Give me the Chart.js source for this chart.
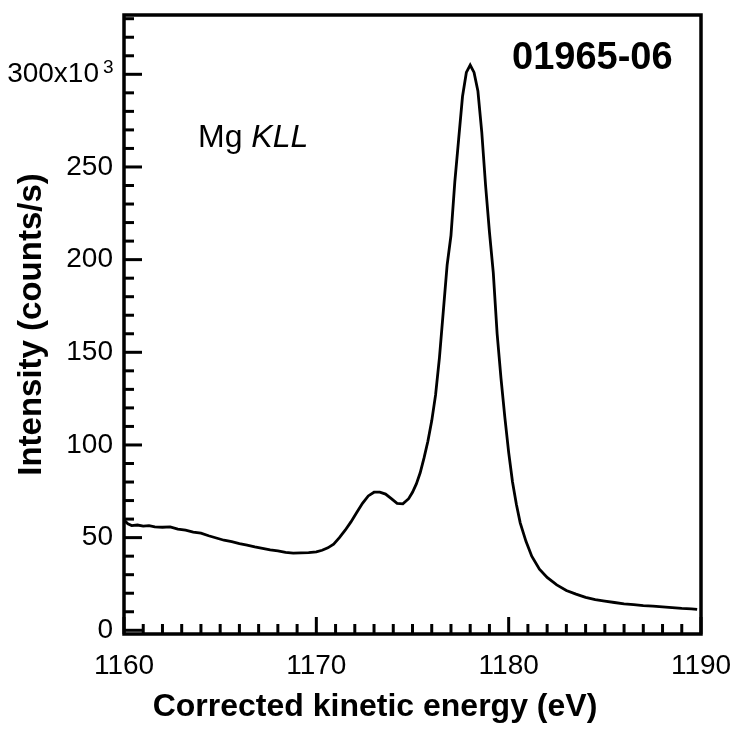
<!DOCTYPE html>
<html>
<head>
<meta charset="utf-8">
<title>Mg KLL</title>
<script src="https://cdn.jsdelivr.net/npm/chart.js@4.4.1/dist/chart.umd.min.js"></script>
<style>
  body { margin: 0; background: #fff; }
  #wrap { width: 732px; height: 733px; }
</style>
</head>
<body>
<div id="wrap"><canvas id="augerChart"></canvas></div>
<script>
// Mg KLL Auger spectrum: corrected kinetic energy (eV) vs intensity (x1000 counts/s)
const energy = [
  1160.0, 1160.2, 1160.4, 1160.7, 1161.0, 1161.3, 1161.6, 1162.0, 1162.4, 1162.8,
  1163.2, 1163.6, 1164.0, 1164.4, 1164.8, 1165.2, 1165.6, 1166.0, 1166.4, 1166.8,
  1167.2, 1167.6, 1168.0, 1168.4, 1168.8, 1169.2, 1169.6, 1170.0, 1170.3, 1170.6,
  1170.9, 1171.2, 1171.5, 1171.8, 1172.1, 1172.4, 1172.7, 1173.0, 1173.3, 1173.6,
  1173.9, 1174.2, 1174.5, 1174.8, 1175.0, 1175.2, 1175.4, 1175.6, 1175.8, 1176.0,
  1176.2, 1176.4, 1176.6, 1176.8, 1177.0, 1177.2, 1177.4, 1177.6, 1177.8, 1178.0,
  1178.2, 1178.4, 1178.6, 1178.8, 1179.0, 1179.2, 1179.4, 1179.6, 1179.8, 1180.0,
  1180.2, 1180.4, 1180.6, 1180.9, 1181.2, 1181.6, 1182.0, 1182.5, 1183.0, 1183.5,
  1184.0, 1184.5, 1185.0, 1185.5, 1186.0, 1186.5, 1187.0, 1187.5, 1188.0, 1188.5,
  1189.0, 1189.5, 1189.8
];
const intensity = [
  59.5, 57.5, 56.5, 56.8, 56.2, 56.5, 55.8, 55.6, 55.8, 54.6,
  54.0, 53.0, 52.4, 51.0, 49.8, 48.6, 47.8, 46.8, 46.0, 45.0,
  44.2, 43.4, 42.8, 42.0, 41.6, 41.8, 41.9, 42.3, 43.2, 44.5,
  46.5, 50.0, 54.0, 58.5, 63.5, 68.5, 72.5, 74.5, 74.5, 73.5,
  71.0, 68.5, 68.2, 71.0, 74.5, 79.0, 85.0, 93.0, 102, 113,
  127, 147, 172, 197, 213, 242, 265, 288, 301, 305,
  301, 291, 269, 240, 215, 193, 160, 136, 115, 96,
  80, 68, 58, 48, 40, 33, 28.5, 24.5, 21.5, 19.5,
  17.8, 16.6, 15.8, 15.0, 14.3, 13.8, 13.3, 13.0, 12.6, 12.2,
  11.8, 11.6, 11.3
];
const xTicks = [1160, 1170, 1180, 1190];
const yTicks = [0, 50, 100, 150, 200, 250, 300];
const sampleId = '01965-06';

const FONT = 'Liberation Sans, Arial, sans-serif';

// inward tick marks, closed frame and the in-plot labels
const frameAndTicks = {
  id: 'frameAndTicks',
  afterDraw(chart) {
    const ctx = chart.ctx;
    const area = chart.chartArea;
    const xs = chart.scales.x;
    const ys = chart.scales.y;
    ctx.save();
    ctx.strokeStyle = '#000';
    ctx.lineWidth = 3;
    ctx.lineCap = 'butt';

    for (let e = xs.min; e <= xs.max; e += 1) {
      const px = xs.getPixelForValue(e);
      const len = e % 10 === 0 ? 17 : 10;
      ctx.beginPath();
      ctx.moveTo(px, area.bottom);
      ctx.lineTo(px, area.bottom - len);
      ctx.stroke();
    }
    for (let v = 0; v <= ys.max; v += 10) {
      const py = ys.getPixelForValue(v);
      const len = v % 50 === 0 ? 18 : 10;
      ctx.beginPath();
      ctx.moveTo(area.left, py);
      ctx.lineTo(area.left + len, py);
      ctx.stroke();
    }

    ctx.lineWidth = 3.5;
    ctx.strokeRect(area.left, area.top, area.right - area.left, area.bottom - area.top);

    ctx.fillStyle = '#000';
    ctx.textBaseline = 'alphabetic';

    // exponent on the 300 label
    ctx.font = '19px ' + FONT;
    ctx.textAlign = 'left';
    ctx.fillText('3', ys.right - 21, ys.getPixelForValue(300) - 1);

    ctx.font = 'bold 38px ' + FONT;
    ctx.fillText(sampleId, 512, 69);

    ctx.font = '32px ' + FONT;
    const mg = 'Mg ';
    ctx.fillText(mg, 198, 147);
    const w = ctx.measureText(mg).width;
    ctx.font = 'italic 32px ' + FONT;
    ctx.fillText('KLL', 198 + w, 147);

    ctx.font = 'bold 32px ' + FONT;
    ctx.textAlign = 'center';
    ctx.fillText('Corrected kinetic energy (eV)', 375, 716);
    ctx.restore();
  }
};

const ctx = document.getElementById('augerChart').getContext('2d');
new Chart(ctx, {
  type: 'line',
  data: {
    datasets: [{
      data: energy.map((e, i) => ({ x: e, y: intensity[i] })),
      borderColor: '#000',
      borderWidth: 2.8,
      pointRadius: 0,
      tension: 0,
      fill: false
    }]
  },
  options: {
    responsive: true,
    maintainAspectRatio: false,
    animation: false,
    layout: { padding: { top: 15, right: 31, left: 0, bottom: 0 } },
    plugins: {
      legend: { display: false },
      tooltip: { enabled: false }
    },
    scales: {
      x: {
        type: 'linear',
        min: 1160,
        max: 1190,
        afterBuildTicks: (scale) => { scale.ticks = xTicks.map(v => ({ value: v })); },
        afterFit: (scale) => {
          scale.height = 99;
          scale.paddingLeft = 0;
          scale.paddingRight = 0;
        },
        grid: { display: false, drawTicks: false },
        border: { display: false },
        ticks: {
          color: '#000',
          padding: 15,
          maxRotation: 0,
          autoSkip: false,
          font: { family: FONT, size: 28 },
          callback: (v) => String(v)
        }
      },
      y: {
        min: -2,
        max: 332,
        afterBuildTicks: (scale) => { scale.ticks = yTicks.map(v => ({ value: v })); },
        afterFit: (scale) => {
          scale.width = 124;
          scale.paddingTop = 0;
          scale.paddingBottom = 0;
        },
        grid: { display: false, drawTicks: false },
        border: { display: false },
        title: {
          display: true,
          text: 'Intensity (counts/s)',
          color: '#000',
          font: { family: FONT, size: 33, weight: 'bold' },
          padding: { top: 12, bottom: 0 }
        },
        ticks: {
          color: '#000',
          padding: 11,
          autoSkip: false,
          font: { family: FONT, size: 28 },
          // the 300 label carries the x10^3 multiplier
          callback: (v) => v === 300 ? '300x10\u2002' : String(v)
        }
      }
    }
  },
  plugins: [frameAndTicks]
});
</script>
</body>
</html>
